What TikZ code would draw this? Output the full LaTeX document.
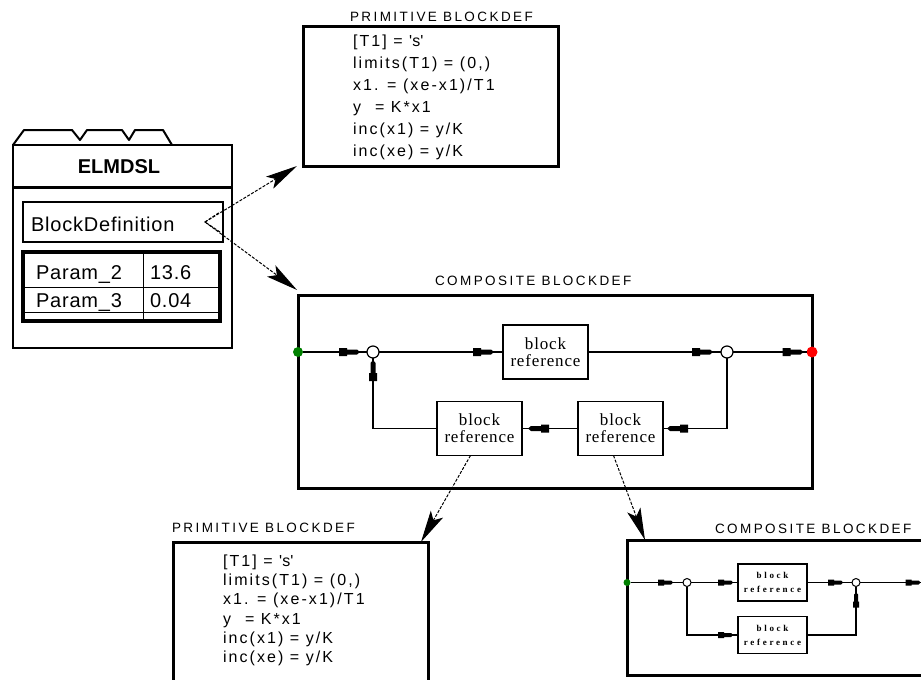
\documentclass[tikz,border=0pt]{standalone}
\usepackage{fontspec}
\setmainfont{Liberation Sans}
\newfontfamily\primfont[LetterSpace=13]{Liberation Sans}
\newfontfamily\titlefont[LetterSpace=18]{Liberation Sans}
\newfontfamily\elmfont[LetterSpace=4]{Liberation Sans}
\newfontfamily\reffont[LetterSpace=5]{Liberation Serif}
\newfontfamily\smallreffont[LetterSpace=30]{Liberation Serif}
\usetikzlibrary{arrows.meta,decorations.markings}
\begin{document}
\begin{tikzpicture}[x=1pt,y=-1pt,
  every node/.style={inner sep=0pt, outer sep=0pt},
  frame/.style={draw, line width=3pt, anchor=north west},
  blockref/.style={draw, line width=1.2pt, minimum width=85pt, minimum height=54pt, align=center, font=\fontsize{17}{17}\selectfont\reffont},
  sblockref/.style={draw, line width=1.2pt, minimum width=69pt, minimum height=37pt, align=center, font=\fontsize{9}{14}\selectfont\smallreffont\bfseries},
  sumpt/.style={draw, circle, line width=1.2pt, minimum size=12pt, fill=white},
  ssumpt/.style={draw, circle, line width=1pt, minimum size=8pt, fill=white},
  gdot/.style={circle, fill=green!50!black, minimum size=#1},
  gdot/.default=10pt,
  rdot/.style={circle, fill=red, minimum size=#1},
  rdot/.default=11pt,
  wire/.style={line width=1.2pt},
  flow/.style={postaction={decorate}, decoration={markings, mark=at position -#1 with {\fill (0,0) -- (-3,-2.5) -- (-13,-2.5) -- (-13,-4) -- (-21,-4) -- (-21,4) -- (-13,4) -- (-13,2.5) -- (-3,2.5) -- cycle;}}},
  flow/.default=6pt,
  sflow/.style={postaction={decorate}, decoration={markings, mark=at position -#1 with {\fill (0,0) -- (-2,-2) -- (-9,-2) -- (-9,-3) -- (-15,-3) -- (-15,3) -- (-9,3) -- (-9,2) -- (-2,2) -- cycle;}}},
  sflow/.default=4pt,
  reflink/.style={line width=1pt, dash pattern=on 3pt off 1.5pt, -{Stealth[length=32pt,width=14pt,inset=7pt]}},
  titletext/.style={anchor=base west, font=\fontsize{13.5}{15}\selectfont\titlefont},
  primtext/.style={anchor=base west, font=\fontsize{16}{18}\selectfont\primfont},
  elmtext/.style={anchor=base west, font=\fontsize{20}{22}\selectfont\elmfont}
]
\useasboundingbox (0,0) rectangle (921,680);
\fill[white] (0,0) rectangle (921,680);
\clip (0,0) rectangle (921,680);

% ---------------- ELMDSL block ----------------
\draw[line width=2pt, line join=round] (13,145) -- (24,130) -- (72,130) -- (80,140) -- (87,130) -- (122,130) -- (129,140) -- (135,130) -- (163,130) -- (172,145);
\node[draw, line width=2.5pt, anchor=north west, minimum width=219pt, minimum height=203pt] (elm) at (13,145) {};
\node[anchor=base, font=\fontsize{20}{22}\selectfont\bfseries] (elmtitle) at (119,173) {ELMDSL};
\draw[line width=3pt] (14,187) -- (231,187);
\node[draw, line width=1.3pt, anchor=north west, minimum width=200pt, minimum height=40pt] (bd) at (23,202) {};
\node[elmtext] (bdtext) at (31,231) {BlockDefinition};
% parameter table
\draw[line width=3.5pt] (23,252) rectangle (220,321);
\draw[line width=1pt] (25,287) -- (218,287);
\draw[line width=1pt] (25,312) -- (218,312);
\draw[line width=1pt] (143,254) -- (143,319);
\node[elmtext] (p2) at (36,279) {Param\_2};
\node[elmtext] (v2) at (150,279) {13.6};
\node[elmtext] (p3) at (36,307) {Param\_3};
\node[elmtext] (v3) at (150,307) {0.04};

% ---------------- top primitive blockdef ----------------
\node[titletext] (t1) at (350,21) {PRIMITIVE BLOCKDEF};
\node[frame, minimum width=255pt, minimum height=140pt] (prim1) at (303,26) {};
\node[primtext] (l11) at (353,46) {[T1] = \textquotesingle s\textquotesingle};
\node[primtext] (l12) at (353,68) {limits(T1) = (0,)};
\node[primtext] (l13) at (353,90) {x1. = (xe-x1)/T1};
\node[primtext] (l14) at (353,112) {y\hspace{14pt}= K*x1};
\node[primtext] (l15) at (353,134) {inc(x1) = y/K};
\node[primtext] (l16) at (353,156) {inc(xe) = y/K};

% ---------------- big composite blockdef ----------------
\node[titletext] (t2) at (435,285) {COMPOSITE BLOCKDEF};
\node[frame, minimum width=514pt, minimum height=193pt] (comp1) at (298,295) {};
\node[blockref] (b1) at (545.5,352) {block\\reference};
\node[blockref] (lb) at (479.5,428.5) {block\\reference};
\node[blockref] (rb) at (620.5,428.5) {block\\reference};
\node[sumpt] (c1) at (373,352) {};
\node[sumpt] (c2) at (727,352) {};
\node[gdot] (gin) at (298,352) {};
\node[rdot] (rout) at (812,352) {};
\draw[wire, flow=7pt] (gin) -- (c1);
\draw[wire, flow=9pt] (c1) -- (b1);
\draw[wire, flow=8pt] (b1) -- (c2);
\draw[wire, flow=3pt] (c2) -- (rout);
\draw[wire, flow=4pt] (c2) |- (rb);
\draw[wire, flow=6pt] (rb) -- (lb);
\draw[wire, flow=2pt] (lb) -| (c1);

% ---------------- links from BlockDefinition ----------------
\coordinate (apex) at ([xshift=-18pt]bd.east);
\draw[line width=1pt, dash pattern=on 3pt off 1.5pt] ([shift={(-3pt,-10pt)}]bd.east) -- (apex) -- ([shift={(-3pt,10pt)}]bd.east);
\draw[reflink] (apex) -- ([xshift=-6pt]prim1.south west);
\draw[reflink] (apex) -- ([shift={(-1pt,5pt)}]comp1.north west);

% ---------------- lower primitive blockdef ----------------
\node[titletext] (t3) at (172,532) {PRIMITIVE BLOCKDEF};
\node[frame, minimum width=255pt, minimum height=160pt] (prim2) at (173,542) {};
\node[primtext] (l21) at (223,566) {[T1] = \textquotesingle s\textquotesingle};
\node[primtext] (l22) at (223,585) {limits(T1) = (0,)};
\node[primtext] (l23) at (223,604.5) {x1. = (xe-x1)/T1};
\node[primtext] (l24) at (223,624) {y\hspace{14pt}= K*x1};
\node[primtext] (l25) at (223,643) {inc(x1) = y/K};
\node[primtext] (l26) at (223,662) {inc(xe) = y/K};

% ---------------- lower composite blockdef ----------------
\node[titletext] (t4) at (715,533) {COMPOSITE BLOCKDEF};
\node[frame, minimum width=310pt, minimum height=135pt] (comp2) at (627,540) {};
\node[sblockref] (sb1) at (772.5,582.5) {block\\reference};
\node[sblockref] (sb2) at (772.5,635) {block\\reference};
\node[ssumpt] (c3) at (687,582.5) {};
\node[ssumpt] (c4) at (856,582.5) {};
\node[gdot=7pt] (gin2) at (627,582.5) {};
\node[rdot=7pt] (rout2) at (926,582.5) {};
\draw[wire, sflow=10pt] (gin2) -- (c3);
\draw[wire, sflow=5pt] (c3) -- (sb1);
\draw[wire, sflow=9pt] (sb1) -- (c4);
\draw[wire, sflow=2pt] (c4) -- (rout2);
\draw[wire, sflow=5pt] (c3) |- (sb2);
\draw[wire, sflow=6pt] (sb2) -| (c4);

% ---------------- links from block references ----------------
\draw[reflink] ([xshift=-9pt]lb.south) -- ([xshift=-7pt]prim2.north east);
\draw[reflink] ([xshift=-7pt]rb.south) -- ([xshift=18pt]comp2.north west);
\end{tikzpicture}
\end{document}
